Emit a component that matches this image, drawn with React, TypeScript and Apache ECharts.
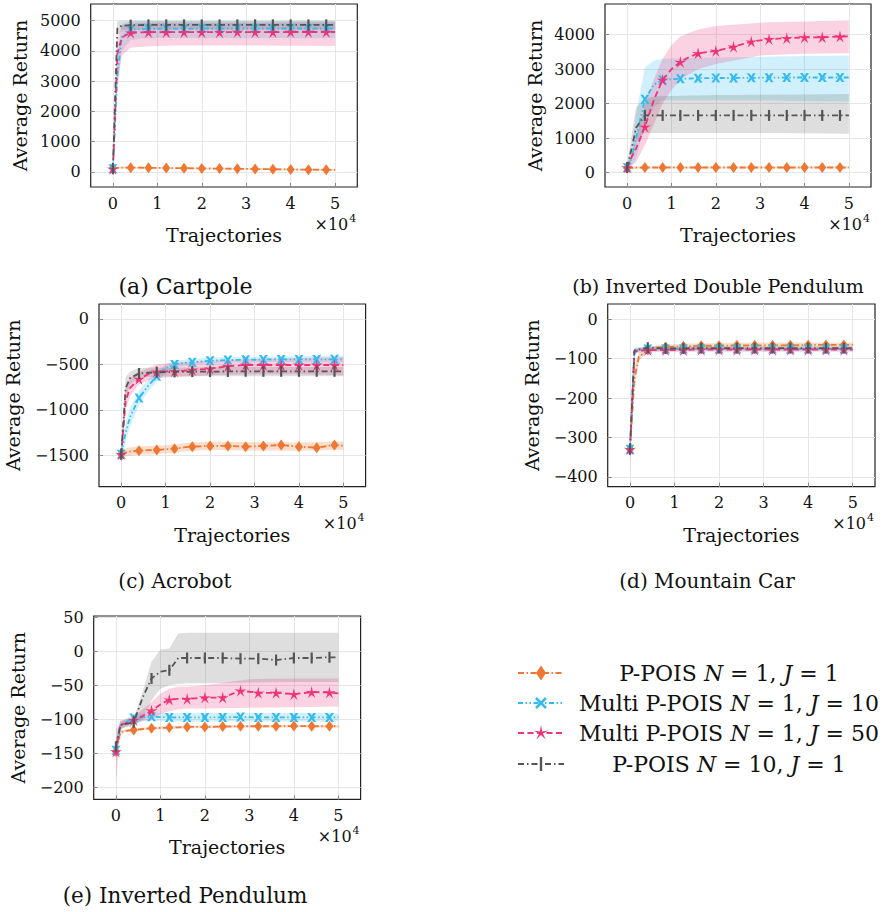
import React, { useEffect, useRef } from 'react';
import * as echarts from 'echarts';

const FONT = '"DejaVu Serif", serif';

// x positions (trajectories) of the mean curves and of the confidence bands
const LINE_X = [0, 1000, 2000, 4000, 6000, 8000, 10000, 12000, 14000, 16000, 20000, 24000, 28000, 32000, 36000, 40000, 44000, 48000, 50000];
const BAND_X = [0, 1000, 2000, 4000, 6000, 8000, 10000, 12000, 14000, 16000, 20000, 30000, 40000, 50000];
const X_TICKS = [0, 10000, 20000, 30000, 40000, 50000];

const LEGEND_LABELS = [
  'P-POIS {i|N} = 1, {i|J} = 1',
  'Multi P-POIS {i|N} = 1, {i|J} = 10',
  'Multi P-POIS {i|N} = 1, {i|J} = 50',
  'P-POIS {i|N} = 10, {i|J} = 1',
];

// ---------- (a) Cartpole ----------
const aTicks = [0, 1000, 2000, 3000, 4000, 5000];
const aOrange = [130, 135, 140, 140, 138, 135, 132, 130, 125, 122, 115, 108, 100, 95, 88, 80, 74, 68, 66];
const aCyan = [100, 3200, 4450, 4700, 4720, 4730, 4730, 4735, 4735, 4735, 4740, 4740, 4740, 4740, 4740, 4740, 4740, 4740, 4740];
const aPink = [100, 3900, 4450, 4600, 4610, 4620, 4620, 4620, 4620, 4620, 4620, 4620, 4625, 4620, 4620, 4625, 4625, 4625, 4625];
const aGray = [100, 4750, 4830, 4850, 4850, 4860, 4860, 4860, 4860, 4860, 4860, 4860, 4860, 4860, 4860, 4860, 4860, 4860, 4860];
const aOrangeLo = [100, 105, 110, 110, 108, 105, 102, 100, 95, 92, 85, 68, 50, 36];
const aOrangeHi = [160, 165, 170, 170, 168, 165, 162, 160, 155, 152, 145, 128, 110, 96];
const aCyanLo = [50, 2600, 4000, 4350, 4400, 4420, 4425, 4430, 4430, 4430, 4430, 4430, 4430, 4430];
const aCyanHi = [180, 3900, 4900, 4980, 4990, 4990, 4990, 4990, 4990, 4990, 4990, 4990, 4990, 4990];
const aPinkLo = [40, 2900, 3850, 4100, 4130, 4150, 4160, 4170, 4175, 4180, 4180, 4180, 4170, 4160];
const aPinkHi = [180, 4400, 4850, 4900, 4920, 4930, 4930, 4930, 4930, 4930, 4930, 4930, 4940, 4950];
const aGrayLo = [50, 4500, 4680, 4700, 4710, 4710, 4710, 4710, 4710, 4710, 4710, 4710, 4710, 4710];
const aGrayHi = [180, 4980, 5000, 5000, 5000, 5000, 5000, 5000, 5000, 5000, 5000, 5000, 5000, 5000];

// ---------- (b) Inverted Double Pendulum ----------
const bTicks = [0, 1000, 2000, 3000, 4000];
const bOrange = [130, 140, 145, 150, 150, 150, 150, 150, 150, 150, 150, 150, 150, 150, 150, 150, 150, 150, 150];
const bCyan = [150, 420, 1000, 2130, 2550, 2690, 2710, 2720, 2730, 2735, 2745, 2745, 2750, 2755, 2760, 2760, 2760, 2760, 2760];
const bPink = [150, 450, 700, 1330, 2100, 2690, 3000, 3210, 3350, 3460, 3530, 3650, 3800, 3870, 3900, 3925, 3925, 3945, 3950];
const bGray = [150, 700, 1300, 1660, 1660, 1660, 1660, 1660, 1660, 1660, 1660, 1660, 1660, 1660, 1660, 1660, 1660, 1660, 1660];
const bOrangeLo = [100, 110, 115, 120, 120, 120, 120, 120, 120, 120, 120, 120, 120, 120];
const bOrangeHi = [170, 175, 180, 180, 180, 180, 180, 180, 180, 180, 180, 180, 180, 180];
const bCyanLo = [100, 200, 400, 1400, 1900, 2100, 2100, 2100, 2100, 2100, 2100, 2100, 2080, 2060];
const bCyanHi = [220, 700, 1700, 3050, 3250, 3300, 3310, 3320, 3325, 3330, 3340, 3360, 3380, 3400];
const bPinkLo = [100, 200, 300, 800, 1400, 2000, 2400, 2700, 2850, 3000, 3150, 3400, 3450, 3460];
const bPinkHi = [220, 500, 1000, 1950, 2700, 3300, 3700, 3950, 4050, 4150, 4250, 4350, 4380, 4420];
const bGrayLo = [100, 400, 900, 1150, 1150, 1150, 1150, 1150, 1150, 1150, 1150, 1150, 1140, 1130];
const bGrayHi = [220, 1100, 1900, 2150, 2200, 2220, 2225, 2230, 2235, 2240, 2250, 2260, 2270, 2280];

// ---------- (c) Acrobot ----------
const cTicks = [-1500, -1000, -500, 0];
const cOrange = [-1490, -1470, -1460, -1450, -1445, -1442, -1435, -1428, -1415, -1406, -1398, -1398, -1406, -1398, -1388, -1406, -1417, -1388, -1395];
const cCyan = [-1490, -1250, -1080, -870, -740, -630, -540, -500, -485, -477, -459, -453, -448, -446, -445, -445, -445, -444, -444];
const cPink = [-1490, -900, -760, -660, -610, -580, -576, -576, -570, -562, -548, -520, -507, -507, -507, -507, -507, -507, -507];
const cGray = [-1490, -760, -650, -600, -592, -587, -585, -583, -582, -580, -580, -578, -576, -576, -576, -576, -576, -576, -576];
const cOrangeLo = [-1560, -1515, -1505, -1495, -1490, -1487, -1480, -1473, -1460, -1451, -1443, -1447, -1451, -1440];
const cOrangeHi = [-1420, -1425, -1415, -1405, -1400, -1397, -1390, -1383, -1370, -1361, -1353, -1357, -1361, -1350];
const cCyanLo = [-1580, -1350, -1180, -950, -800, -690, -600, -540, -515, -500, -485, -475, -475, -480];
const cCyanHi = [-1400, -1150, -980, -790, -670, -580, -500, -460, -450, -440, -425, -415, -410, -408];
const cPinkLo = [-1660, -1000, -850, -720, -680, -650, -645, -640, -635, -630, -620, -610, -610, -620];
const cPinkHi = [-1350, -780, -650, -590, -540, -500, -490, -480, -475, -470, -460, -440, -430, -420];
const cGrayLo = [-1580, -900, -720, -650, -640, -635, -633, -632, -631, -630, -630, -630, -630, -630];
const cGrayHi = [-1400, -640, -580, -540, -538, -536, -535, -535, -535, -535, -530, -528, -528, -528];

// ---------- (d) Mountain Car ----------
const dTicks = [-400, -300, -200, -100, 0];
const dOrange = [-330, -150, -95, -78, -72, -70, -69, -68, -68, -67, -67, -66, -66, -66, -66, -65, -65, -65, -65];
const dCyan = [-330, -80, -77, -75, -75, -75, -75, -75, -75, -75, -75, -75, -75, -75, -75, -75, -75, -75, -75];
const dPink = [-330, -82, -80, -78, -78, -78, -78, -78, -77, -77, -77, -77, -77, -77, -77, -77, -77, -77, -77];
const dGray = [-330, -79, -76, -72, -73, -74, -74, -74, -73, -73, -73, -73, -73, -73, -73, -73, -73, -73, -73];
const dOrangeLo = [-350, -180, -105, -84, -78, -76, -75, -74, -73, -73, -72, -71, -71, -71];
const dOrangeHi = [-310, -120, -85, -72, -66, -64, -63, -62, -61, -61, -60, -59, -59, -59];
const dCyanLo = [-350, -86, -82, -80, -80, -80, -80, -80, -80, -80, -80, -80, -80, -80];
const dCyanHi = [-310, -74, -72, -70, -70, -70, -70, -70, -70, -70, -70, -70, -70, -70];
const dPinkLo = [-390, -88, -85, -83, -83, -83, -83, -83, -82, -82, -82, -82, -82, -82];
const dPinkHi = [-280, -76, -75, -73, -73, -73, -73, -73, -72, -72, -72, -72, -72, -72];
const dGrayLo = [-360, -85, -81, -78, -79, -79, -79, -79, -78, -78, -78, -78, -78, -78];
const dGrayHi = [-300, -73, -71, -67, -68, -69, -69, -69, -68, -68, -68, -68, -68, -68];

// ---------- (e) Inverted Pendulum ----------
const eTicks = [-200, -150, -100, -50, 0, 50];
const eOrange = [-147, -119, -117, -115.5, -114, -113, -112.5, -112, -111.5, -111, -111, -110.5, -110, -110, -110, -109.5, -110, -110, -110];
const eCyan = [-145, -110, -105, -98, -97, -96, -96.5, -97, -97, -97, -97, -97, -96.5, -97, -97, -97, -97, -97, -97];
const ePink = [-147, -108, -106, -101, -95, -87, -78, -71, -70, -70, -68, -68, -58, -61, -61, -63, -60, -60.5, -62];
const eGray = [-140, -108, -107, -104, -68, -40, -30, -28, -10, -10, -10, -10, -11, -11, -13, -10, -10, -9, -9];
const eOrangeLo = [-150, -122, -119, -117.5, -116, -115, -114.5, -114, -113.5, -113, -113, -112, -112, -112];
const eOrangeHi = [-144, -116, -115, -113.5, -112, -111, -110.5, -110, -109.5, -109, -109, -108, -108, -108];
const eCyanLo = [-160, -116, -110, -104, -103, -102, -102, -103, -103, -103, -103, -103, -103, -103];
const eCyanHi = [-130, -104, -100, -92, -91, -90, -91, -91, -91, -91, -91, -91, -91, -91];
const ePinkLo = [-195, -114, -111, -106, -102, -100, -92, -88, -85, -84, -84, -83, -82, -81];
const ePinkHi = [-115, -102, -100, -96, -85, -75, -62, -55, -52, -52, -50, -41, -40, -40];
const eGrayLo = [-150, -114, -112, -110, -100, -72, -55, -50, -48, -47, -47, -46, -45, -45];
const eGrayHi = [-130, -102, -101, -98, -60, -15, 2, 4, 26, 27, 27, 27, 27, 27];

// ---------- styles ----------
const COLORS = ['#EE7733', '#33BBEE', '#EE3377', '#555555'];
const BAND_COLORS = ['rgba(238,119,51,0.25)', 'rgba(51,187,238,0.22)', 'rgba(238,51,119,0.22)', 'rgba(90,90,90,0.2)'];
const DASHES = [[6, 2.5, 1.5, 2.5], [5, 2.5, 1.5, 2.5, 1.5, 2.5], [6, 3.5], [6, 3, 1.5, 3]];
const SYMBOLS = [
  'diamond',
  'path://M0,0 L3,0 L5,3 L7,0 L10,0 L6.5,5 L10,10 L7,10 L5,7 L3,10 L0,10 L3.5,5 Z',
  'path://M5,0 L5.88,3.79 L9.76,3.45 L6.43,5.46 L7.94,9.05 L5,6.5 L2.06,9.05 L3.57,5.46 L0.24,3.45 L4.12,3.79 Z',
  'path://M0,0 L1,0 L1,10 L0,10 Z',
];
const SYMBOL_SIZES: any[] = [[8, 11], 9, 12, [2.2, 11]];

const PANELS = [
  { caption: '(a) Cartpole', left: 90.7, top: 4, width: 266.6, height: 183, yMin: -500, yMax: 5550, ticks: aTicks,
    lines: [aOrange, aCyan, aPink, aGray], lo: [aOrangeLo, aCyanLo, aPinkLo, aGrayLo], hi: [aOrangeHi, aCyanHi, aPinkHi, aGrayHi],
    yLabelX: 20, capX: 185.5, capY: 286, capSize: 22 },
  { caption: '(b) Inverted Double Pendulum', left: 605, top: 4, width: 266, height: 183, yMin: -415, yMax: 4890, ticks: bTicks,
    lines: [bOrange, bCyan, bPink, bGray], lo: [bOrangeLo, bCyanLo, bPinkLo, bGrayLo], hi: [bOrangeHi, bCyanHi, bPinkHi, bGrayHi],
    yLabelX: 535, capX: 718, capY: 286, capSize: 19 },
  { caption: '(c) Acrobot', left: 99, top: 304, width: 266.6, height: 182.7, yMin: -1847, yMax: 165, ticks: cTicks,
    lines: [cOrange, cCyan, cPink, cGray], lo: [cOrangeLo, cCyanLo, cPinkLo, cGrayLo], hi: [cOrangeHi, cCyanHi, cPinkHi, cGrayHi],
    yLabelX: 13, capX: 175, capY: 581, capSize: 20 },
  { caption: '(d) Mountain Car', left: 607.7, top: 304, width: 267.3, height: 182.7, yMin: -425, yMax: 39, ticks: dTicks,
    lines: [dOrange, dCyan, dPink, dGray], lo: [dOrangeLo, dCyanLo, dPinkLo, dGrayLo], hi: [dOrangeHi, dCyanHi, dPinkHi, dGrayHi],
    yLabelX: 531.5, capX: 707, capY: 581, capSize: 20 },
  { caption: '(e) Inverted Pendulum', left: 93.7, top: 616, width: 266.9, height: 183.3, yMin: -217, yMax: 51.5, ticks: eTicks,
    lines: [eOrange, eCyan, ePink, eGray], lo: [eOrangeLo, eCyanLo, ePinkLo, eGrayLo], hi: [eOrangeHi, eCyanHi, ePinkHi, eGrayHi],
    yLabelX: 17.5, capX: 185, capY: 895, capSize: 21.5 },
];

const fmtNum = (v: number) => (v < 0 ? '\u2212' + Math.abs(v) : String(v));

function textEl(text: string, x: number, y: number, size: number, extra: any = {}) {
  return {
    type: 'text', x, y, rotation: extra.rotation || 0, silent: true,
    style: {
      text, fill: '#111', fontFamily: FONT, fontSize: size,
      align: extra.align || 'center', textAlign: extra.align || 'center',
      verticalAlign: 'middle', textVerticalAlign: 'middle',
      rich: extra.rich,
    },
  };
}

function buildOption() {
  const grid: any[] = [];
  const xAxis: any[] = [];
  const yAxis: any[] = [];
  const series: any[] = [];
  const graphic: any[] = [];

  PANELS.forEach((p, i) => {
    grid.push({ left: p.left, top: p.top, width: p.width, height: p.height, show: true, borderColor: '#222', borderWidth: 1.2, backgroundColor: 'transparent' });
    xAxis.push({
      type: 'value', gridIndex: i, min: -5000, max: 55000,
      axisLine: { show: false, onZero: false },
      axisTick: { show: true, inside: true, length: 4, lineStyle: { color: '#888' }, customValues: X_TICKS },
      axisLabel: { customValues: X_TICKS, formatter: (v: number) => String(v / 10000), fontFamily: FONT, fontSize: 16, color: '#111', margin: 8 },
      splitLine: { show: true, lineStyle: { color: '#e6e6e6', width: 1 } },
    });
    yAxis.push({
      type: 'value', gridIndex: i, min: p.yMin, max: p.yMax,
      axisLine: { show: false, onZero: false },
      axisTick: { show: true, inside: true, length: 4, lineStyle: { color: '#888' }, customValues: p.ticks },
      axisLabel: { customValues: p.ticks, formatter: fmtNum, fontFamily: FONT, fontSize: 16, color: '#111', margin: 10 },
      splitLine: { show: true, lineStyle: { color: '#e6e6e6', width: 1 } },
    });

    // confidence bands
    for (let m = 0; m < 4; m++) {
      const lo = p.lo[m];
      const hi = p.hi[m];
      series.push({
        type: 'custom', xAxisIndex: i, yAxisIndex: i, silent: true, z: 1,
        data: [[BAND_X[0], lo[0]]],
        renderItem: (_params: any, api: any) => {
          const pts: number[][] = [];
          for (let j = 0; j < BAND_X.length; j++) pts.push(api.coord([BAND_X[j], hi[j]]));
          for (let j = BAND_X.length - 1; j >= 0; j--) pts.push(api.coord([BAND_X[j], lo[j]]));
          return { type: 'polygon', shape: { points: pts }, style: { fill: BAND_COLORS[m], stroke: null } };
        },
      });
    }
    // mean curves
    for (let m = 0; m < 4; m++) {
      const vals = p.lines[m];
      series.push({
        type: 'line', xAxisIndex: i, yAxisIndex: i, z: 3 + m,
        data: LINE_X.map((x, j) => ({ value: [x, vals[j]], symbol: x % 4000 === 0 ? SYMBOLS[m] : 'none' })),
        symbolSize: SYMBOL_SIZES[m],
        lineStyle: { color: COLORS[m], width: 1.8, type: DASHES[m] },
        itemStyle: { color: COLORS[m], borderWidth: 0 },
        silent: true,
      });
    }

    const right = p.left + p.width;
    const bottom = p.top + p.height;
    // axis names
    graphic.push(textEl('Average Return', p.yLabelX, p.top + p.height / 2, 19, { rotation: Math.PI / 2 }));
    graphic.push(textEl('Trajectories', p.left + p.width / 2, bottom + 48, 19));
    // x10^4 multiplier
    graphic.push(textEl('\u00d710', right - 9, bottom + 37, 16, { align: 'right' }));
    graphic.push(textEl('4', right - 8, bottom + 31, 11, { align: 'left' }));
    // caption
    graphic.push(textEl(p.caption, p.capX, p.capY, p.capSize));
  });

  // legend
  const legY = [673, 703, 733, 764];
  legY.forEach((y, m) => {
    graphic.push({ type: 'line', silent: true, shape: { x1: 518, y1: y, x2: 564, y2: y }, style: { stroke: COLORS[m], lineWidth: 2, lineDash: DASHES[m] } });
    const cx = 541;
    if (m === 0) {
      graphic.push({ type: 'polygon', silent: true, shape: { points: [[cx, y - 7.5], [cx + 5, y], [cx, y + 7.5], [cx - 5, y]] }, style: { fill: COLORS[m] } });
    } else if (m === 1) {
      graphic.push({ type: 'line', silent: true, shape: { x1: cx - 5, y1: y - 5, x2: cx + 5, y2: y + 5 }, style: { stroke: COLORS[m], lineWidth: 2.5 } });
      graphic.push({ type: 'line', silent: true, shape: { x1: cx - 5, y1: y + 5, x2: cx + 5, y2: y - 5 }, style: { stroke: COLORS[m], lineWidth: 2.5 } });
    } else if (m === 2) {
      const pts: number[][] = [];
      for (let k = 0; k < 10; k++) {
        const r = k % 2 === 0 ? 8 : 2;
        const a = -Math.PI / 2 + (k * Math.PI) / 5;
        pts.push([cx + r * Math.cos(a), y + r * Math.sin(a)]);
      }
      graphic.push({ type: 'polygon', silent: true, shape: { points: pts }, style: { fill: COLORS[m] } });
    } else {
      graphic.push({ type: 'rect', silent: true, shape: { x: cx - 1.2, y: y - 7, width: 2.4, height: 14 }, style: { fill: COLORS[m] } });
    }
    graphic.push(textEl(LEGEND_LABELS[m], 729, y, 22, { rich: { i: { fontStyle: 'italic', fontFamily: FONT, fontSize: 22, fill: '#111' } } }));
  });

  return {
    animation: false,
    backgroundColor: '#ffffff',
    grid, xAxis, yAxis, series, graphic,
  };
}

export default function App() {
  const ref = useRef<HTMLDivElement>(null);
  useEffect(() => {
    if (!ref.current) return;
    const chart = echarts.init(ref.current, null, { renderer: 'svg' });
    chart.setOption(buildOption() as any);
    return () => chart.dispose();
  }, []);
  return <div ref={ref} style={{ position: 'fixed', left: 0, top: 0, width: 883, height: 912, background: '#fff' }} />;
}
